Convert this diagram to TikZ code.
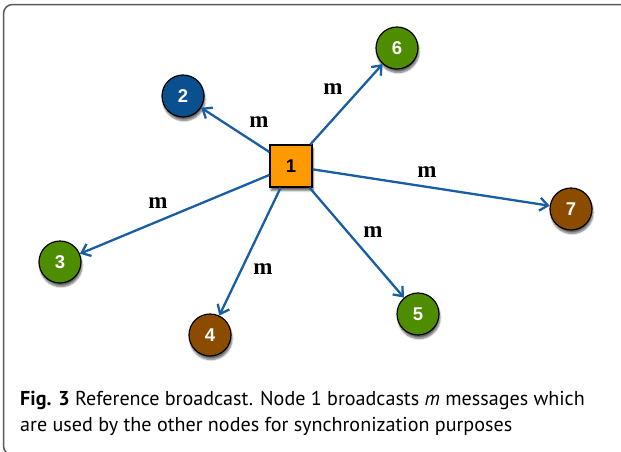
\documentclass[tikz,border=0pt]{standalone}
\usepackage{fontspec}
\setmainfont{Liberation Serif}
\setsansfont{PT Sans}
\newfontfamily\numfont{Liberation Sans}
\usepackage{xcolor}
\usetikzlibrary{arrows.meta,shadows.blur}

\definecolor{peergreen}{RGB}{78,140,0}
\definecolor{peerblue}{RGB}{10,80,143}
\definecolor{peerbrown}{RGB}{140,76,0}
\definecolor{refnode}{RGB}{255,153,0}
\definecolor{msgblue}{RGB}{24,94,160}

\begin{document}
\begin{tikzpicture}[x=1pt,y=-1pt,
    peer/.style={circle, draw=black, line width=1.2pt, minimum size=42pt, inner sep=0pt,
        text=white, font=\numfont\bfseries\fontsize{18.5pt}{18.5pt}\selectfont,
        blur shadow={shadow xshift=1pt, shadow yshift=-3.5pt, shadow blur steps=7, shadow opacity=60}},
    sender/.style={rectangle, draw=black, line width=1.2pt, minimum size=42pt, inner sep=0pt,
        fill=refnode, font=\numfont\bfseries\fontsize{18.5pt}{18.5pt}\selectfont,
        blur shadow={shadow xshift=1pt, shadow yshift=-3.5pt, shadow blur steps=7, shadow opacity=60}},
    msg/.style={draw=msgblue, line width=2.3pt, -{Straight Barb[length=8pt,width=13pt]}},
    lbl/.style={font=\bfseries\fontsize{23pt}{23pt}\selectfont, inner sep=0pt},
    capline/.style={anchor=base west, inner sep=0pt, font=\sffamily\fontsize{20.1pt}{26pt}\selectfont}]
    \useasboundingbox (0,0) rectangle (621,451);
    \clip (0,0) rectangle (621,451);
    \draw[draw=black!65, line width=1.5pt, rounded corners=9pt] (3.5,4.5) rectangle (660,455);

    % reference node and receivers
    \node (n1) [sender] at (291,166) {1};
    \node (n2) [peer, fill=peerblue] at (183,96) {2};
    \node (n3) [peer, fill=peergreen] at (60,262) {3};
    \node (n4) [peer, fill=peerbrown] at (210,335) {4};
    \node (n5) [peer, fill=peergreen] at (418,314) {5};
    \node (n6) [peer, fill=peergreen] at (397,48) {6};
    \node (n7) [peer, fill=peerbrown] at (571,209) {7};

    % broadcast messages
    \draw[msg] (n1) -- (n2);
    \draw[msg] (n1) -- (n3);
    \draw[msg] (n1) -- (n4);
    \draw[msg] (n1) -- (n5);
    \draw[msg] (n1) -- (n6);
    \draw[msg] (n1) -- (n7);

    \node (m2) [lbl] at (259,122) {m};
    \node (m3) [lbl] at (158,203) {m};
    \node (m4) [lbl] at (263,269) {m};
    \node (m5) [lbl] at (373,232) {m};
    \node (m6) [lbl] at (333,89) {m};
    \node (m7) [lbl] at (427,172) {m};

    \node (cap1) [capline] at (20,405) {\textbf{Fig. 3} Reference broadcast. Node 1 broadcasts \textit{m} messages which};
    \node (cap2) [capline] at (20,431) {are used by the other nodes for synchronization purposes};
\end{tikzpicture}
\end{document}
